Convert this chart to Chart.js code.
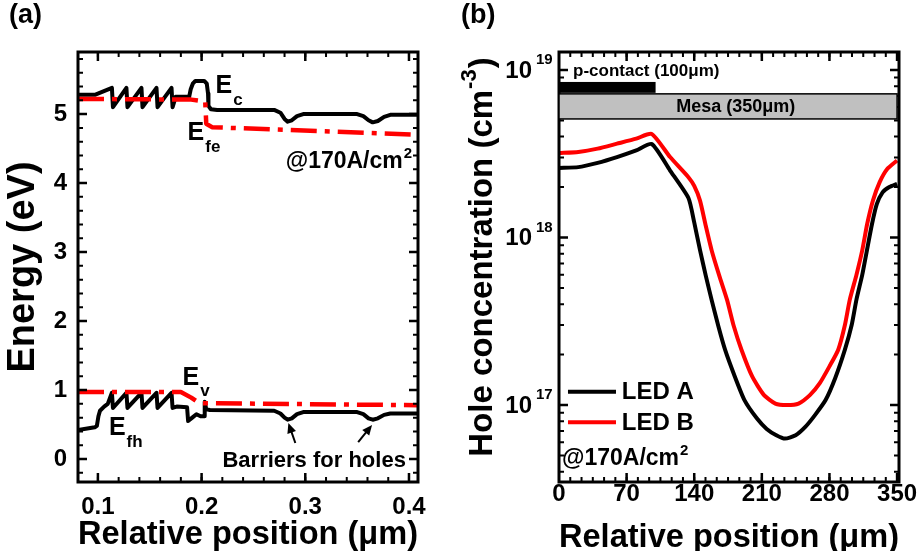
<!DOCTYPE html>
<html>
<head>
<meta charset="utf-8">
<script src="https://cdn.jsdelivr.net/npm/chart.js@4.4.1/dist/chart.umd.min.js"></script>
<style>
  body { margin: 0; background: #fff; }
  #bandBox { position: absolute; left: 0; top: 0; }
  #holeBox { position: absolute; left: 460px; top: 0; }
</style>
</head>
<body>
<div id="bandBox"><canvas id="bandCanvas" width="460" height="551"></canvas></div>
<div id="holeBox"><canvas id="holeCanvas" width="461" height="551"></canvas></div>
<script>
var FONT = '"Liberation Sans", Arial, Helvetica, sans-serif';

// ---- (a) band diagram: position (um) vs energy (eV) ----
var ecPos = [0.0808, 0.097, 0.1135, 0.1145, 0.1275, 0.1285, 0.142, 0.143, 0.1565, 0.1575, 0.171, 0.172,
  0.175, 0.188, 0.1895, 0.1915, 0.194, 0.2025, 0.205, 0.2062, 0.2066, 0.209, 0.215, 0.27, 0.276, 0.28,
  0.283, 0.287, 0.292, 0.298, 0.35, 0.356, 0.361, 0.365, 0.37, 0.376, 0.382, 0.41];
var ecVal = [5.28, 5.28, 5.38, 5.10, 5.38, 5.10, 5.38, 5.10, 5.38, 5.10, 5.38, 5.10,
  5.25, 5.25, 5.36, 5.44, 5.48, 5.48, 5.44, 5.30, 5.12, 5.07, 5.06, 5.06, 5.02, 4.93,
  4.89, 4.91, 4.97, 5.00, 5.00, 4.97, 4.91, 4.88, 4.90, 4.96, 4.99, 4.99];
var efePos = [0.0808, 0.19, 0.2035, 0.2045, 0.21, 0.41];
var efeVal = [5.22, 5.21, 5.18, 4.86, 4.81, 4.70];
var evPos = [0.0808, 0.097, 0.099, 0.1005, 0.102, 0.106, 0.1095, 0.1135, 0.1145, 0.1275, 0.1285, 0.142, 0.143,
  0.1565, 0.1575, 0.171, 0.172, 0.176, 0.186, 0.187, 0.191, 0.195, 0.199, 0.2025, 0.203, 0.2045, 0.208,
  0.27, 0.276, 0.28, 0.283, 0.287, 0.292, 0.298, 0.35, 0.356, 0.361, 0.365, 0.37, 0.376, 0.382, 0.41];
var evVal = [0.42, 0.46, 0.48, 0.62, 0.70, 0.76, 0.80, 0.96, 0.74, 0.96, 0.74, 0.96, 0.74,
  0.96, 0.74, 0.96, 0.74, 0.76, 0.75, 0.55, 0.60, 0.65, 0.62, 0.62, 0.83, 0.72, 0.71,
  0.70, 0.66, 0.60, 0.57, 0.59, 0.65, 0.68, 0.68, 0.65, 0.59, 0.57, 0.59, 0.64, 0.66, 0.66];
var efhPos = [0.0808, 0.18, 0.19, 0.198, 0.41];
var efhVal = [0.97, 0.97, 0.89, 0.81, 0.78];
var bandXTicks = [0.1, 0.2, 0.3, 0.4];
var bandYTicks = [0, 1, 2, 3, 4, 5];

// ---- (b) hole concentration along the mesa ----
var posA = [0, 20, 40, 60, 80, 96, 115, 134, 140, 146, 152, 158, 165, 172, 182, 192, 205, 215, 225, 234,
  245, 255, 265, 276, 286, 296, 303, 308, 314, 319, 324, 329, 335, 342, 350];
var ledA = [2.60e18, 2.63e18, 2.79e18, 3.02e18, 3.31e18, 3.61e18, 2.51e18, 1.72e18, 1.23e18, 8.4e17, 5.9e17,
  4.24e17, 2.95e17, 2.13e17, 1.48e17, 1.07e17, 8.3e16, 7.2e16, 6.6e16, 6.3e16,
  6.6e16, 7.4e16, 8.7e16, 1.07e17, 1.45e17, 2.14e17, 3.0e17, 4.27e17, 6.0e17, 8.5e17, 1.2e18, 1.58e18,
  1.86e18, 2.0e18, 2.09e18];
var posB = [0, 20, 40, 60, 80, 96, 115, 134, 140, 146, 152, 158, 166, 174, 181, 189, 200, 212, 224, 236,
  248, 260, 270, 280, 289, 296, 301, 308, 314, 319, 325, 332, 340, 350];
var ledB = [3.19e18, 3.24e18, 3.39e18, 3.63e18, 3.89e18, 4.15e18, 3.02e18, 2.29e18, 2.03e18, 1.66e18, 1.17e18,
  8.4e17, 5.9e17, 4.24e17, 2.95e17, 2.13e17, 1.48e17, 1.15e17, 1.02e17, 1.0e17,
  1.02e17, 1.15e17, 1.35e17, 1.7e17, 2.13e17, 3.0e17, 4.24e17, 6.0e17, 8.4e17, 1.2e18, 1.66e18, 2.14e18,
  2.57e18, 2.88e18];
var holeXTicks = [0, 70, 140, 210, 280, 350];
var holeYTicks = [1e17, 1e18, 1e19];
var contactSpan = [0, 100];
var mesaSpan = [0, 350];

function pts(xs, ys) {
  return xs.map(function (x, i) { return { x: x, y: ys[i] }; });
}

function font(size) { return 'bold ' + size + 'px ' + FONT; }

// text with a lowered or raised tail, left aligned; returns the width
function textWithTail(ctx, main, tail, x, y, size, tailSize, shift) {
  ctx.font = font(size);
  ctx.textAlign = 'left';
  ctx.textBaseline = 'alphabetic';
  ctx.fillText(main, x, y);
  var w = ctx.measureText(main).width;
  ctx.font = font(tailSize);
  ctx.fillText(tail, x + w + 1, y + shift);
  return w + 1 + ctx.measureText(tail).width;
}

function tailWidth(ctx, main, tail, size, tailSize) {
  ctx.font = font(size);
  var w = ctx.measureText(main).width;
  ctx.font = font(tailSize);
  return w + 1 + ctx.measureText(tail).width;
}

// box around the plot with inward ticks on all four sides
var framePlugin = {
  id: 'frame',
  afterDraw: function (chart, args, o) {
    var ctx = chart.ctx, a = chart.chartArea;
    var sx = chart.scales.x, sy = chart.scales.y;
    ctx.save();
    ctx.strokeStyle = '#000';
    ctx.lineCap = 'butt';
    function tickX(list, len, w) {
      ctx.lineWidth = w;
      list.forEach(function (v) {
        var p = sx.getPixelForValue(v);
        if (p < a.left + 1 || p > a.right - 1) return;
        ctx.beginPath();
        ctx.moveTo(p, a.bottom); ctx.lineTo(p, a.bottom - len);
        ctx.moveTo(p, a.top); ctx.lineTo(p, a.top + len);
        ctx.stroke();
      });
    }
    function tickY(list, len, w) {
      ctx.lineWidth = w;
      list.forEach(function (v) {
        var p = sy.getPixelForValue(v);
        if (p < a.top + 1 || p > a.bottom - 1) return;
        ctx.beginPath();
        ctx.moveTo(a.left, p); ctx.lineTo(a.left + len, p);
        ctx.moveTo(a.right, p); ctx.lineTo(a.right - len, p);
        ctx.stroke();
      });
    }
    tickX(o.xMinor, 5, 2);
    tickX(o.xMajor, 9, 2.5);
    tickY(o.yMinor, 5, 2);
    tickY(o.yMajor, 9, 2.5);
    ctx.lineWidth = 3;
    ctx.strokeRect(a.left, a.top, a.right - a.left, a.bottom - a.top);
    ctx.restore();
  }
};

function steps(from, to, step) {
  var out = [];
  for (var v = from; v <= to + 1e-9; v += step) out.push(+v.toFixed(6));
  return out;
}

// ---- (a) ----
var bandNotes = {
  id: 'bandNotes',
  afterDraw: function (chart) {
    var ctx = chart.ctx, sx = chart.scales.x, sy = chart.scales.y;
    function X(v) { return sx.getPixelForValue(v); }
    function Y(v) { return sy.getPixelForValue(v); }
    ctx.save();
    ctx.fillStyle = '#000';
    ctx.strokeStyle = '#000';

    ctx.font = font(27);
    ctx.textAlign = 'left';
    ctx.textBaseline = 'top';
    ctx.fillText('(a)', 9, 2);

    textWithTail(ctx, 'E', 'c', X(0.2135), Y(5.30), 25, 17, 12);
    textWithTail(ctx, 'E', 'fe', X(0.1865), Y(4.62), 25, 17, 12);
    textWithTail(ctx, 'E', 'v', X(0.1817), Y(1.07), 25, 17, 11);
    textWithTail(ctx, 'E', 'fh', X(0.1106), Y(0.35), 25, 17, 12);

    var w = tailWidth(ctx, '@170A/cm', '2', 23, 15);
    textWithTail(ctx, '@170A/cm', '2', X(0.403) - w, Y(4.22), 23, 15, -10);

    ctx.font = font(22);
    ctx.textAlign = 'right';
    ctx.textBaseline = 'alphabetic';
    ctx.fillText('Barriers for holes', X(0.397), Y(-0.12));

    // arrows pointing at the barrier dips
    function arrow(x1, y1, x2, y2) {
      var p1 = [X(x1), Y(y1)], p2 = [X(x2), Y(y2)];
      var ang = Math.atan2(p2[1] - p1[1], p2[0] - p1[0]);
      ctx.lineWidth = 2;
      ctx.beginPath();
      ctx.moveTo(p1[0], p1[1]);
      ctx.lineTo(p2[0] - 6 * Math.cos(ang), p2[1] - 6 * Math.sin(ang));
      ctx.stroke();
      ctx.beginPath();
      ctx.moveTo(p2[0], p2[1]);
      ctx.lineTo(p2[0] - 10 * Math.cos(ang) + 4.5 * Math.sin(ang), p2[1] - 10 * Math.sin(ang) - 4.5 * Math.cos(ang));
      ctx.lineTo(p2[0] - 10 * Math.cos(ang) - 4.5 * Math.sin(ang), p2[1] - 10 * Math.sin(ang) + 4.5 * Math.cos(ang));
      ctx.closePath();
      ctx.fill();
    }
    arrow(0.2904, 0.232, 0.2837, 0.522);
    arrow(0.351, 0.246, 0.3644, 0.493);
    ctx.restore();
  }
};

new Chart(document.getElementById('bandCanvas'), {
  type: 'line',
  data: {
    datasets: [
      { data: pts(efePos, efeVal), borderColor: '#ff0000', borderWidth: 4.5, borderDash: [26, 8, 5, 8] },
      { data: pts(efhPos, efhVal), borderColor: '#ff0000', borderWidth: 4.5, borderDash: [26, 8, 5, 8] },
      { data: pts(ecPos, ecVal), borderColor: '#000', borderWidth: 4 },
      { data: pts(evPos, evVal), borderColor: '#000', borderWidth: 4 }
    ]
  },
  options: {
    responsive: false,
    animation: false,
    layout: { padding: { top: 52, right: 42, left: 0, bottom: 0 } },
    elements: { point: { radius: 0 }, line: { tension: 0, borderJoinStyle: 'round' } },
    plugins: {
      legend: { display: false },
      tooltip: { enabled: false },
      frame: {
        xMajor: bandXTicks, xMinor: steps(0.08, 0.40, 0.02),
        yMajor: bandYTicks, yMinor: steps(-0.2, 5.8, 0.2)
      }
    },
    scales: {
      x: {
        type: 'linear', min: 0.0808, max: 0.4087,
        grid: { display: false, drawTicks: false }, border: { display: false },
        afterBuildTicks: function (s) { s.ticks = bandXTicks.map(function (v) { return { value: v }; }); },
        afterFit: function (s) { s.height = 69; },
        ticks: {
          color: '#000', padding: 11, maxRotation: 0,
          font: { family: FONT, size: 24, weight: 'bold' },
          callback: function (v) { return v.toFixed(1); }
        },
        title: {
          display: true, text: 'Relative position (\u03bcm)', color: '#000',
          font: { family: FONT, size: 33, weight: 'bold' }, padding: { top: 0, bottom: -4 }
        }
      },
      y: {
        type: 'linear', min: -0.333, max: 5.9,
        grid: { display: false, drawTicks: false }, border: { display: false },
        afterBuildTicks: function (s) { s.ticks = bandYTicks.map(function (v) { return { value: v }; }); },
        afterFit: function (s) { s.width = 78; },
        ticks: {
          color: '#000', padding: 11,
          font: { family: FONT, size: 24, weight: 'bold' }
        },
        title: {
          display: true, text: 'Energy (eV)', color: '#000',
          font: { family: FONT, size: 38, weight: 'bold' }, padding: { top: 1, bottom: 0 }
        }
      }
    }
  },
  plugins: [framePlugin, bandNotes]
});

// ---- (b) ----
var holeNotes = {
  id: 'holeNotes',
  afterDraw: function (chart) {
    var ctx = chart.ctx, a = chart.chartArea, sx = chart.scales.x, sy = chart.scales.y;
    function X(v) { return sx.getPixelForValue(v); }
    function Y(v) { return sy.getPixelForValue(v); }
    ctx.save();
    ctx.fillStyle = '#000';

    ctx.font = font(27);
    ctx.textAlign = 'left';
    ctx.textBaseline = 'top';
    ctx.fillText('(b)', 1, 2);

    // decade labels 10^n
    holeYTicks.forEach(function (v) {
      var p = Y(v);
      ctx.font = font(24);
      ctx.textAlign = 'right';
      ctx.textBaseline = 'middle';
      ctx.fillText('10', a.left - 27, p + 1);
      ctx.font = font(15);
      ctx.textAlign = 'left';
      ctx.fillText(String(Math.round(Math.log10(v))), a.left - 23, p - 10);
    });

    // rotated axis title with superscript
    ctx.save();
    ctx.translate(23, (a.top + a.bottom) / 2 - 10);
    ctx.rotate(-Math.PI / 2);
    var base = 'Hole concentration (cm', sup = '-3', end = ')';
    ctx.font = font(33);
    var w1 = ctx.measureText(base).width, w3 = ctx.measureText(end).width;
    ctx.font = font(22);
    var w2 = ctx.measureText(sup).width;
    var x0 = -(w1 + w2 + w3 + 2) / 2;
    ctx.textAlign = 'left';
    ctx.textBaseline = 'middle';
    ctx.font = font(33);
    ctx.fillText(base, x0, 0);
    ctx.font = font(22);
    ctx.fillText(sup, x0 + w1 + 1, -13);
    ctx.font = font(33);
    ctx.fillText(end, x0 + w1 + w2 + 2, 0);
    ctx.restore();

    // contact and mesa bars
    ctx.fillStyle = '#000';
    ctx.fillRect(X(contactSpan[0]), Y(8.48e18), X(contactSpan[1]) - X(contactSpan[0]), Y(7.3e18) - Y(8.48e18));
    ctx.fillStyle = '#c0c0c0';
    ctx.strokeStyle = '#000';
    ctx.lineWidth = 1.5;
    ctx.fillRect(X(mesaSpan[0]), Y(7.2e18), X(mesaSpan[1]) - X(mesaSpan[0]), Y(5.1e18) - Y(7.2e18));
    ctx.strokeRect(X(mesaSpan[0]), Y(7.2e18), X(mesaSpan[1]) - X(mesaSpan[0]), Y(5.1e18) - Y(7.2e18));
    ctx.fillStyle = '#000';
    ctx.font = font(17);
    ctx.textAlign = 'left';
    ctx.textBaseline = 'middle';
    ctx.fillText('p-contact (100\u03bcm)', X(14.5), Y(9.86e18));
    ctx.font = font(18);
    ctx.textAlign = 'center';
    ctx.fillText('Mesa (350\u03bcm)', X(183), Y(6.0e18));

    // legend
    var rows = [['LED A', '#000', 1.2e17], ['LED B', '#ff0000', 7.9e16]];
    rows.forEach(function (r) {
      var y = Y(r[2]);
      ctx.strokeStyle = r[1];
      ctx.lineWidth = 4;
      ctx.beginPath();
      ctx.moveTo(X(9.3), y);
      ctx.lineTo(X(59), y);
      ctx.stroke();
      ctx.fillStyle = '#000';
      ctx.font = font(24);
      ctx.textAlign = 'left';
      ctx.textBaseline = 'middle';
      ctx.fillText(r[0], X(65), y + 1);
    });
    textWithTail(ctx, '@170A/cm', '2', X(3.1), Y(4.4e16), 23, 15, -10);
    ctx.restore();
  }
};

new Chart(document.getElementById('holeCanvas'), {
  type: 'line',
  data: {
    datasets: [
      { label: 'LED A', data: pts(posA, ledA), borderColor: '#000', borderWidth: 4 },
      { label: 'LED B', data: pts(posB, ledB), borderColor: '#ff0000', borderWidth: 4 }
    ]
  },
  options: {
    responsive: false,
    animation: false,
    layout: { padding: { top: 52, right: 22, left: 0, bottom: 0 } },
    elements: { point: { radius: 0 }, line: { tension: 0.2, borderJoinStyle: 'round' } },
    plugins: {
      legend: { display: false },
      tooltip: { enabled: false },
      frame: {
        xMajor: holeXTicks, xMinor: steps(0, 350, 70 / 6),
        yMajor: holeYTicks,
        yMinor: [4e16, 5e16, 6e16, 7e16, 8e16, 9e16, 2e17, 3e17, 4e17, 5e17, 6e17, 7e17, 8e17, 9e17,
          2e18, 3e18, 4e18, 5e18, 6e18, 7e18, 8e18, 9e18]
      }
    },
    scales: {
      x: {
        type: 'linear', min: 0, max: 352,
        grid: { display: false, drawTicks: false }, border: { display: false },
        afterBuildTicks: function (s) { s.ticks = holeXTicks.map(function (v) { return { value: v }; }); },
        afterFit: function (s) { s.height = 69; },
        ticks: {
          color: '#000', padding: -2, maxRotation: 0,
          font: { family: FONT, size: 24, weight: 'bold' }
        },
        title: {
          display: true, text: 'Relative position (\u03bcm)', color: '#000',
          font: { family: FONT, size: 33, weight: 'bold' }, padding: { top: 0, bottom: -7 }
        }
      },
      y: {
        type: 'logarithmic', min: 3.47e16, max: 1.28e19,
        grid: { display: false, drawTicks: false }, border: { display: false },
        afterFit: function (s) { s.width = 99; },
        ticks: { display: false },
        title: { display: false }
      }
    }
  },
  plugins: [framePlugin, holeNotes]
});
</script>
</body>
</html>
